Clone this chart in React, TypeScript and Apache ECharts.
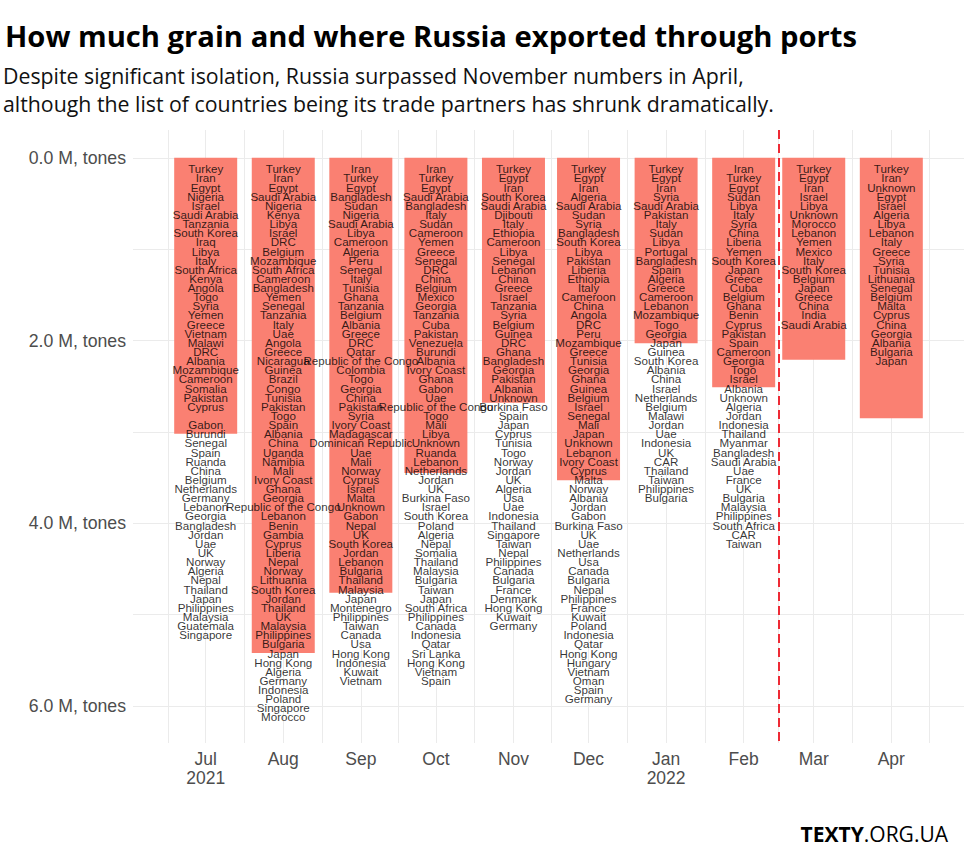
import React, { useEffect, useRef } from "react";
import * as echarts from "echarts";

// ---------- DATA ----------
const monthStarts: [number, number][] = [
  [2021, 6], [2021, 7], [2021, 8], [2021, 9], [2021, 10], [2021, 11],
  [2022, 0], [2022, 1], [2022, 2], [2022, 3],
];
const xTickLabels = ["Jul\n2021", "Aug", "Sep", "Oct", "Nov", "Dec", "Jan\n2022", "Feb", "Mar", "Apr"];
// grain exported through ports, million tonnes
const exportsMt = [3.02, 5.42, 4.76, 3.45, 2.68, 3.53, 2.03, 2.51, 2.21, 2.85];

const yTickValues = [0, 2, 4, 6];
const yGridValues = [0, 1, 2, 3, 4, 5, 6];
const invasionDate: [number, number, number] = [2022, 1, 15];

const countriesJul = ["Turkey","Iran","Egypt","Nigeria","Israel","Saudi Arabia","Tanzania","South Korea","Iraq","Libya","Italy","South Africa","Kenya","Angola","Togo","Syria","Yemen","Greece","Vietnam","Malawi","DRC","Albania","Mozambique","Cameroon","Somalia","Pakistan","Cyprus","","Gabon","Burundi","Senegal","Spain","Ruanda","China","Belgium","Netherlands","Germany","Lebanon","Georgia","Bangladesh","Jordan","Uae","UK","Norway","Algeria","Nepal","Thailand","Japan","Philippines","Malaysia","Guatemala","Singapore"];
const countriesAug = ["Turkey","Iran","Egypt","Saudi Arabia","Nigeria","Kenya","Libya","Israel","DRC","Belgium","Mozambique","South Africa","Cameroon","Bangladesh","Yemen","Senegal","Tanzania","Italy","Uae","Angola","Greece","Nicaragua","Guinea","Brazil","Congo","Tunisia","Pakistan","Togo","Spain","Albania","China","Uganda","Namibia","Mali","Ivory Coast","Ghana","Georgia","Republic of the Congo","Lebanon","Benin","Gambia","Cyprus","Liberia","Nepal","Norway","Lithuania","South Korea","Jordan","Thailand","UK","Malaysia","Philippines","Bulgaria","Japan","Hong Kong","Algeria","Germany","Indonesia","Poland","Singapore","Morocco"];
const countriesSep = ["Iran","Turkey","Egypt","Bangladesh","Sudan","Nigeria","Saudi Arabia","Libya","Cameroon","Algeria","Peru","Senegal","Italy","Tunisia","Ghana","Tanzania","Belgium","Albania","Greece","DRC","Qatar","Republic of the Congo","Colombia","Togo","Georgia","China","Pakistan","Syria","Ivory Coast","Madagascar","Dominican Republic","Uae","Mali","Norway","Cyprus","Israel","Malta","Unknown","Gabon","Nepal","UK","South Korea","Jordan","Lebanon","Bulgaria","Thailand","Malaysia","Japan","Montenegro","Philippines","Taiwan","Canada","Usa","Hong Kong","Indonesia","Kuwait","Vietnam"];
const countriesOct = ["Iran","Turkey","Egypt","Saudi Arabia","Bangladesh","Italy","Sudan","Cameroon","Yemen","Greece","Senegal","DRC","China","Belgium","Mexico","Georgia","Tanzania","Cuba","Pakistan","Venezuela","Burundi","Albania","Ivory Coast","Ghana","Gabon","Uae","Republic of the Congo","Togo","Mali","Libya","Unknown","Ruanda","Lebanon","Netherlands","Jordan","UK","Burkina Faso","Israel","South Korea","Poland","Algeria","Nepal","Somalia","Thailand","Malaysia","Bulgaria","Taiwan","Japan","South Africa","Philippines","Canada","Indonesia","Qatar","Sri Lanka","Hong Kong","Vietnam","Spain"];
const countriesNov = ["Turkey","Egypt","Iran","South Korea","Saudi Arabia","Djibouti","Italy","Ethiopia","Cameroon","Libya","Senegal","Lebanon","China","Greece","Israel","Tanzania","Syria","Belgium","Guinea","DRC","Ghana","Bangladesh","Georgia","Pakistan","Albania","Unknown","Burkina Faso","Spain","Japan","Cyprus","Tunisia","Togo","Norway","Jordan","UK","Algeria","Usa","Uae","Indonesia","Thailand","Singapore","Taiwan","Nepal","Philippines","Canada","Bulgaria","France","Denmark","Hong Kong","Kuwait","Germany"];
const countriesDec = ["Turkey","Egypt","Iran","Algeria","Saudi Arabia","Sudan","Syria","Bangladesh","South Korea","Libya","Pakistan","Liberia","Ethiopia","Italy","Cameroon","China","Angola","DRC","Peru","Mozambique","Greece","Tunisia","Georgia","Ghana","Guinea","Belgium","Israel","Senegal","Mali","Japan","Unknown","Lebanon","Ivory Coast","Cyprus","Malta","Norway","Albania","Jordan","Gabon","Burkina Faso","UK","Uae","Netherlands","Usa","Canada","Bulgaria","Nepal","Philippines","France","Kuwait","Poland","Indonesia","Qatar","Hong Kong","Hungary","Vietnam","Oman","Spain","Germany"];
const countriesJan = ["Turkey","Egypt","Iran","Syria","Saudi Arabia","Pakistan","Italy","Sudan","Libya","Portugal","Bangladesh","Spain","Algeria","Greece","Cameroon","Lebanon","Mozambique","Togo","Georgia","Japan","Guinea","South Korea","Albania","China","Israel","Netherlands","Belgium","Malawi","Jordan","Uae","Indonesia","UK","CAR","Thailand","Taiwan","Philippines","Bulgaria"];
const countriesFeb = ["Iran","Turkey","Egypt","Sudan","Libya","Italy","Syria","China","Liberia","Yemen","South Korea","Japan","Greece","Cuba","Belgium","Ghana","Benin","Cyprus","Pakistan","Spain","Cameroon","Georgia","Togo","Israel","Albania","Unknown","Algeria","Jordan","Indonesia","Thailand","Myanmar","Bangladesh","Saudi Arabia","Uae","France","UK","Bulgaria","Malaysia","Philippines","South Africa","CAR","Taiwan"];
const countriesMar = ["Turkey","Egypt","Iran","Israel","Libya","Unknown","Morocco","Lebanon","Yemen","Mexico","Italy","South Korea","Belgium","Japan","Greece","China","India","Saudi Arabia"];
const countriesApr = ["Turkey","Iran","Unknown","Egypt","Israel","Algeria","Libya","Lebanon","Italy","Greece","Syria","Tunisia","Lithuania","Senegal","Belgium","Malta","Cyprus","China","Georgia","Albania","Bulgaria","Japan"];

const countryLists = [countriesJul, countriesAug, countriesSep, countriesOct, countriesNov, countriesDec, countriesJan, countriesFeb, countriesMar, countriesApr];

// ---------- HELPERS ----------
const DAY = 24 * 3600 * 1000;
const ts = (y: number, m: number, d = 1) => new Date(y, m, d).getTime();
const monthTs = monthStarts.map(([y, m]) => ts(y, m));

export default function App() {
  const ref = useRef<HTMLDivElement>(null);

  useEffect(() => {
    document.body.style.margin = "0";
    if (!ref.current) return;
    const chart = echarts.init(ref.current, undefined, { renderer: "svg" });

    const xMin = monthTs[0] - 29.05 * DAY;
    const xMax = monthTs[monthTs.length - 1] + 29.05 * DAY;

    // grid lines: month starts + mid-months (between month starts)
    const allStarts: number[] = [ts(2021, 5)];
    monthStarts.forEach(([y, m]) => allStarts.push(ts(y, m)));
    allStarts.push(ts(2022, 4));
    const gridX: number[] = [];
    for (let i = 0; i < allStarts.length; i++) {
      gridX.push(allStarts[i]);
      if (i + 1 < allStarts.length) gridX.push((allStarts[i] + allStarts[i + 1]) / 2);
    }
    const gridXIn = gridX.filter((v) => v > xMin && v < xMax);

    const labelData: any[] = [];
    countryLists.forEach((list, i) => {
      list.forEach((name, j) => {
        if (name) labelData.push([monthTs[i], 0.12 + 0.1 * j, name]);
      });
    });

    const option: any = {
      animation: false,
      backgroundColor: "#ffffff",
      grid: { left: 133, right: 8, top: 130, bottom: 107, containLabel: false },
      xAxis: {
        type: "value",
        min: xMin,
        max: xMax,
        scale: true,
        axisLine: { show: false },
        axisTick: { show: false, customValues: gridXIn },
        splitLine: { show: true, lineStyle: { color: "#EBEBEB", width: 1 } },
        axisLabel: {
          customValues: monthTs,
          formatter: (v: number) => {
            const idx = monthTs.findIndex((t) => Math.abs(t - v) < DAY / 2);
            return idx >= 0 ? xTickLabels[idx] : "";
          },
          color: "#4D4D4D",
          fontSize: 17.5,
          lineHeight: 19,
          fontFamily: "Liberation Sans",
          margin: 6,
          hideOverlap: false,
        },
      },
      yAxis: {
        type: "value",
        inverse: true,
        min: -0.305,
        max: 6.405,
        axisLine: { show: false },
        axisTick: { show: false, customValues: yGridValues },
        splitLine: { show: true, lineStyle: { color: "#EBEBEB", width: 1 } },
        axisLabel: {
          customValues: yTickValues,
          formatter: (v: number) => v.toFixed(1) + " M, tones",
          color: "#4D4D4D",
          fontSize: 17.7,
          fontFamily: "Liberation Sans",
          margin: 7,
        },
      },
      series: [
        {
          type: "bar",
          data: monthTs.map((t, i) => [t, exportsMt[i]]),
          barWidth: 63,
          itemStyle: { color: "#FA8072" },
          z: 2,
          markLine: {
            silent: true,
            symbol: "none",
            label: { show: false },
            lineStyle: { color: "#EE2A35", type: [9, 5], width: 2 },
            data: [{ xAxis: ts(invasionDate[0], invasionDate[1], invasionDate[2]) }],
          },
        },
        {
          type: "scatter",
          data: labelData,
          symbolSize: 1,
          itemStyle: { color: "rgba(0,0,0,0)" },
          z: 3,
          silent: true,
          label: {
            show: true,
            position: "inside",
            formatter: (p: any) => p.data[2],
            color: "#000000",
            fontSize: 11.6,
            fontFamily: "Liberation Sans",
          },
        },
      ],
      graphic: [
        {
          type: "text",
          left: 5,
          top: 21,
          style: {
            text: "How much grain and where Russia exported through ports",
            font: "bold 29.2px 'Open Sans'",
            fill: "#000000",
          },
        },
        {
          type: "text",
          left: 3,
          top: 65,
          style: {
            text: "Despite significant isolation, Russia surpassed November numbers in April,",
            font: "21.3px 'Open Sans'",
            fill: "#111111",
          },
        },
        {
          type: "text",
          left: 3,
          top: 93,
          style: {
            text: "although the list of countries being its trade partners has shrunk dramatically.",
            font: "21.3px 'Open Sans'",
            fill: "#111111",
          },
        },
        {
          type: "text",
          right: 24,
          top: 823,
          style: {
            text: "{b|TEXTY}{r|.ORG.UA}",
            rich: {
              b: { fontFamily: "Open Sans", fontWeight: "bold", fontSize: 21, fill: "#000000" },
              r: { fontFamily: "Open Sans", fontWeight: "normal", fontSize: 21, fill: "#000000" },
            },
          },
        },
      ],
    };

    chart.setOption(option);
    return () => chart.dispose();
  }, []);

  return <div ref={ref} style={{ width: 972, height: 850, background: "#fff" }} />;
}
